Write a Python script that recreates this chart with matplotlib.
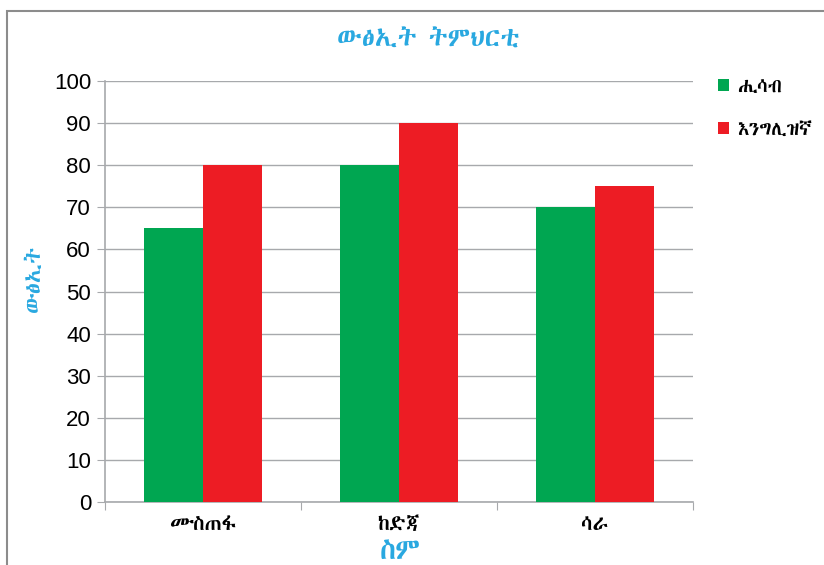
import matplotlib.pyplot as plt
import matplotlib.patches as patches
from matplotlib import font_manager
import numpy as np

students = ['ሙስጠፋ', 'ከድጃ', 'ሳራ']
math_scores = [65, 80, 70]
english_scores = [80, 90, 75]
series_names = ['ሒሳብ', 'እንግሊዝኛ']
yticks = [0, 10, 20, 30, 40, 50, 60, 70, 80, 90, 100]

# look for any installed font with Ethiopic glyphs, fall back to DejaVu
eth = sorted({f.name for f in font_manager.fontManager.ttflist
              if 'ethiopic' in f.name.lower() or 'abyssinica' in f.name.lower()})
eth_fonts = eth + ['DejaVu Sans']

blue = '#29A8E0'
green = '#00A651'
red = '#ED1C24'
grid_gray = '#A7A9AC'

fig = plt.figure(figsize=(8.24, 5.65), dpi=100)
ax = fig.add_axes([0.1274, 0.1115, 0.7136, 0.7451])

# chart frame
fig.patches.append(patches.Rectangle((0.0085, -0.05), 1.1, 1.0305, transform=fig.transFigure,
                                     fill=False, edgecolor='#8C8C8C', linewidth=1.5))

x = np.arange(len(students))
w = 0.3
ax.bar(x - w / 2, math_scores, w, color=green, label=series_names[0], zorder=3)
ax.bar(x + w / 2, english_scores, w, color=red, label=series_names[1], zorder=3)

ax.set_xlim(-0.5, 2.5)
ax.set_ylim(0, 100)
ax.set_yticks(yticks)
ax.set_yticklabels([str(v) for v in yticks], fontsize=16, family='Liberation Sans')
ax.yaxis.grid(True, color=grid_gray, linewidth=1, zorder=0)
ax.set_xticks([-0.5, 0.5, 1.5, 2.5])
ax.set_xticklabels([])
ax.set_xticks(x, minor=True)
ax.set_xticklabels(students, minor=True, fontsize=15, fontweight='bold', family=eth_fonts)
ax.tick_params(axis='x', which='minor', length=0, pad=9)
ax.tick_params(axis='x', which='major', length=6, color=grid_gray, direction='out')
ax.tick_params(axis='y', length=6, color=grid_gray, pad=4)

for s in ['top', 'right']:
    ax.spines[s].set_visible(False)
for s in ['left', 'bottom']:
    ax.spines[s].set_color(grid_gray)
    ax.spines[s].set_linewidth(1.2)

fig.text(0.52, 0.929, 'ውፅኢት ትምህርቲ', color=blue, fontsize=19, fontweight='bold',
         ha='center', va='center', family=eth_fonts)
fig.text(0.042, 0.508, 'ውፅኢት', color=blue, fontsize=16, fontweight='bold',
         rotation=90, ha='center', va='center', family=eth_fonts)
fig.text(0.486, 0.024, 'ስም', color=blue, fontsize=21, fontweight='bold',
         ha='center', va='center', family=eth_fonts)

ax.legend(loc='upper left', bbox_to_anchor=(1.029, 1.029), frameon=False,
          prop={'family': eth_fonts, 'size': 14, 'weight': 'bold'},
          handlelength=0.55, handleheight=0.55, handletextpad=0.45, labelspacing=1.25,
          borderaxespad=0, borderpad=0.4)

fig.savefig('out.png', dpi=100)
